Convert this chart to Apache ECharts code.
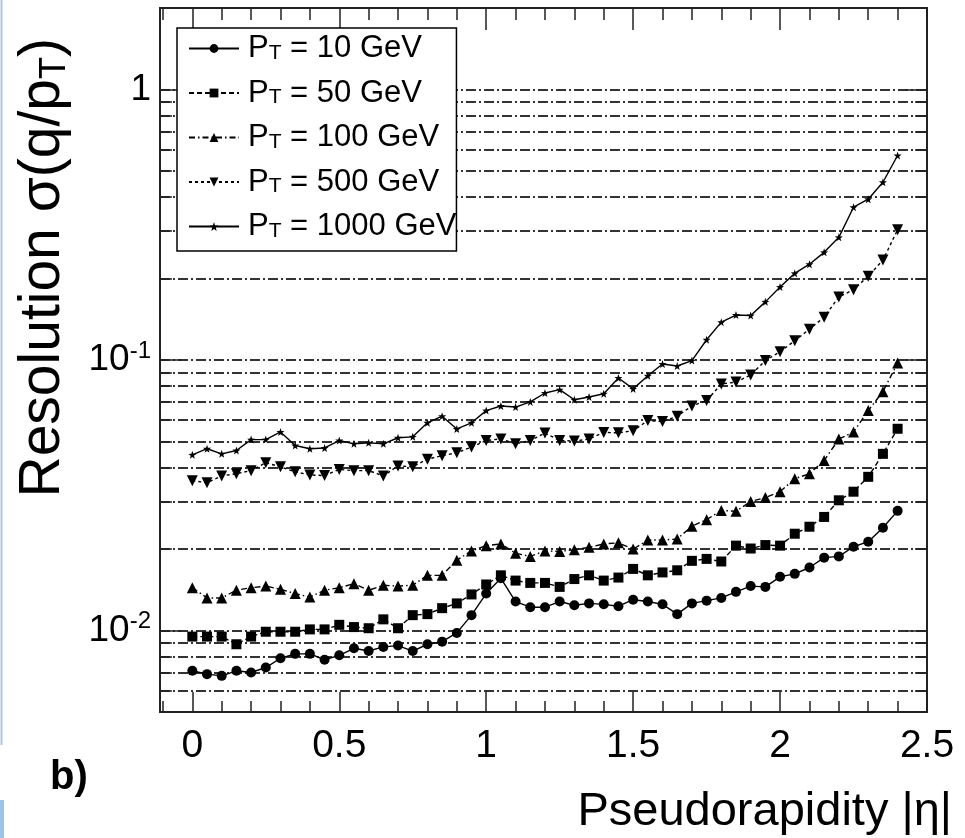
<!DOCTYPE html>
<html><head><meta charset="utf-8">
<script src="https://cdn.jsdelivr.net/npm/echarts@6/dist/echarts.min.js"></script>
<style>html,body{margin:0;padding:0;background:#fff}#c{width:965px;height:838px}</style>
</head><body><div id="c"></div><script>
// ---- data ----
const eta = [0,0.05,0.1,0.15,0.2,0.25,0.3,0.35,0.4,0.45,0.5,0.55,0.6,0.65,0.7,0.75,0.8,0.85,0.9,0.95,1.0,1.05,1.1,1.15,1.2,1.25,1.3,1.35,1.4,1.45,1.5,1.55,1.6,1.65,1.7,1.75,1.8,1.85,1.9,1.95,2.0,2.05,2.1,2.15,2.2,2.25,2.3,2.35,2.4];
const pt10 = [0.0071,0.0069,0.0068,0.0071,0.0070,0.0073,0.0079,0.0082,0.0082,0.0078,0.0081,0.0086,0.0084,0.0087,0.0088,0.0084,0.0089,0.0091,0.0098,0.0114,0.0137,0.0156,0.0128,0.0122,0.0122,0.0128,0.0124,0.0126,0.0125,0.0123,0.0130,0.0128,0.0125,0.0115,0.0126,0.0129,0.0132,0.0139,0.0146,0.0145,0.0158,0.0162,0.0171,0.0186,0.0188,0.0204,0.0213,0.0240,0.0277];
const pt50 = [0.0095,0.0095,0.0095,0.0089,0.0095,0.0099,0.0099,0.0099,0.0101,0.0101,0.0105,0.0103,0.0102,0.0110,0.0102,0.0114,0.0115,0.0121,0.0126,0.0136,0.0148,0.0160,0.0153,0.0150,0.0150,0.0145,0.0155,0.0160,0.0153,0.0157,0.0169,0.0160,0.0164,0.0167,0.0181,0.0184,0.0180,0.0206,0.0201,0.0207,0.0206,0.0228,0.0242,0.0263,0.0303,0.0326,0.0370,0.0450,0.0557];
const pt100 = [0.0144,0.0132,0.0132,0.0141,0.0144,0.0146,0.0142,0.0137,0.0133,0.0141,0.0144,0.0149,0.0141,0.0147,0.0146,0.0147,0.0160,0.0160,0.0182,0.0197,0.0206,0.0209,0.0193,0.0188,0.0197,0.0196,0.0199,0.0203,0.0209,0.0211,0.0200,0.0216,0.0216,0.0218,0.0243,0.0257,0.0278,0.0276,0.0300,0.0310,0.0326,0.0364,0.0380,0.0425,0.0510,0.0542,0.0650,0.0764,0.0975];
const pt500 = [0.0358,0.0352,0.0373,0.0380,0.0390,0.0417,0.0403,0.0386,0.0376,0.0374,0.0394,0.0390,0.0390,0.0373,0.0406,0.0403,0.0430,0.0443,0.0454,0.0477,0.0504,0.0511,0.0490,0.0504,0.0537,0.0504,0.0502,0.0510,0.0540,0.0538,0.0548,0.0597,0.0592,0.0620,0.0676,0.0708,0.0815,0.0829,0.0880,0.0995,0.1073,0.1178,0.1300,0.1440,0.1710,0.1820,0.2040,0.2340,0.3030];
const pt1000 = [0.0446,0.0470,0.0450,0.0463,0.0508,0.0508,0.0542,0.0483,0.0470,0.0473,0.0504,0.0490,0.0494,0.0490,0.0516,0.0520,0.0586,0.0620,0.0556,0.0586,0.0650,0.0676,0.0670,0.0700,0.0755,0.0777,0.0713,0.0730,0.0750,0.0858,0.0782,0.0875,0.0967,0.0950,0.0995,0.1188,0.1380,0.1466,0.1460,0.1640,0.1860,0.2090,0.2260,0.2500,0.2840,0.3670,0.3930,0.4540,0.5700];
const ptLabels = ['10','50','100','500','1000'];
const xMajorTicks = [0,0.5,1,1.5,2,2.5];
const xMinorTicks = [-0.1,0,0.1,0.2,0.3,0.4,0.5,0.6,0.7,0.8,0.9,1,1.1,1.2,1.3,1.4,1.5,1.6,1.7,1.8,1.9,2,2.1,2.2,2.3,2.4,2.5];
const yMajorTicks = [0.01,0.1,1];
const yMinorTicks = [0.006,0.007,0.008,0.009,0.01,0.02,0.03,0.04,0.05,0.06,0.07,0.08,0.09,0.1,0.2,0.3,0.4,0.5,0.6,0.7,0.8,0.9,1];

const FONT = '"Liberation Sans", Arial, Helvetica, sans-serif';
const chart = echarts.init(document.getElementById('c'), null, {renderer:'canvas'});
const allSeries = [pt10, pt50, pt100, pt500, pt1000];
const star = 'path://M0,-10L2.35,-3.24L9.51,-3.09L3.8,1.24L5.88,8.09L0,4L-5.88,8.09L-3.8,1.24L-9.51,-3.09L-2.35,-3.24Z';
const styles = [
  {symbol:'circle', size:10, type:'solid', rot:0},
  {symbol:'rect', size:10, type:[5,3], rot:0},
  {symbol:'triangle', size:11, type:[6,3,1.5,3], rot:0},
  {symbol:'triangle', size:11, type:[3,3], rot:180},
  {symbol:star, size:8, type:'solid', rot:0}
];
const names = ptLabels.map(p => 'P_T = ' + p + ' GeV');

const series = allSeries.map((vals, i) => ({
  name: names[i], type:'line', xAxisIndex:0, yAxisIndex:0,
  data: eta.map((x, j) => [x, vals[j]]),
  symbol: styles[i].symbol, symbolSize: styles[i].size, symbolRotate: styles[i].rot,
  showAllSymbol:true, animation:false,
  itemStyle:{color:'#000'},
  lineStyle:{color:'#000', width:1.4, type: styles[i].type},
  z: 5
}));

const axisLine = {show:true, onZero:false, lineStyle:{color:'#222', width:2}};
const tickStyle = {color:'#222', width:1.5};
const gridStyle = {color:'#333', width:1.8, type:[10,3,2,3]};
function xAx(pos, ticks, len, label){
  return {type:'value', min:-0.11, max:2.5, position:pos,
    axisLine: axisLine,
    axisTick:{show:true, inside:true, length:len, customValues:ticks, lineStyle:tickStyle},
    axisLabel: label ? {show:true, customValues:xMajorTicks, fontSize:39, fontFamily:FONT, color:'#000', margin:15} : {show:false},
    splitLine:{show:false}};
}
function yAx(pos, ticks, len, label, grid){
  return {type:'log', logBase:10, min:0.005, max:2, position:pos,
    axisLine: axisLine,
    axisTick:{show:true, inside:true, length:len, customValues:ticks, lineStyle:tickStyle},
    axisLabel: label ? {show:true, customValues:yMajorTicks, margin:9, color:'#000',
      formatter: v => Math.abs(v-1) < 1e-9 ? '{b|1}' : '{b|10}{s|' + Math.round(Math.log10(v)) + '}',
      rich:{b:{fontSize:37, fontFamily:FONT, color:'#000', lineHeight:42}, s:{fontSize:24, fontFamily:FONT, color:'#000', lineHeight:22, verticalAlign:'top'}}} : {show:false},
    splitLine: grid ? {show:true, lineStyle:gridStyle} : {show:false}};
}

chart.setOption({
  backgroundColor:'#fff',
  animation:false,
  grid:{left:160, right:38, top:8, bottom:126, containLabel:false},
  xAxis:[xAx('bottom', xMajorTicks, 20, true), xAx('bottom', xMinorTicks, 11, false), xAx('top', xMajorTicks, 22, false), xAx('top', xMinorTicks, 12, false)],
  yAxis:[yAx('left', yMajorTicks, 21, true, false), yAx('left', yMinorTicks, 12, false, true), yAx('right', yMajorTicks, 21, false, false), yAx('right', yMinorTicks, 12, false, false)],
  legend:{show:true, orient:'vertical', left:177, top:28, itemWidth:50, itemHeight:11, itemGap:13.5,
    padding:[5,0,9,11], borderColor:'#000', borderWidth:1.5, backgroundColor:'#fff', borderRadius:0,
    data: names,
    formatter: n => '{g|}{a|P}{s|T}{a| = ' + n.split(' = ')[1] + '}',
    textStyle:{color:'#000', fontFamily:FONT, fontSize:31,
      rich:{g:{width:4, lineHeight:30}, a:{fontSize:31, fontFamily:FONT, color:'#000', lineHeight:30}, s:{fontSize:21, fontFamily:FONT, color:'#000', lineHeight:6, verticalAlign:'bottom'}}}
  },
  graphic:[
    {type:'text', x:43, y:38, rotation:Math.PI/2, style:{text:'{a|Resolution σ(q/p}{s|T}{a|)}', textAlign:'right', textVerticalAlign:'middle', fill:'#000',
      rich:{a:{fontSize:57, fontFamily:FONT, fill:'#000', lineHeight:60}, s:{fontSize:36, fontFamily:FONT, fill:'#000', lineHeight:14, verticalAlign:'bottom'}}}},
    {type:'text', x:952, y:812, style:{text:'Pseudorapidity |η|', font:'47px ' + FONT, textAlign:'right', textVerticalAlign:'middle', fill:'#000'}},
    {type:'text', x:50, y:778, style:{text:'b)', font:'bold 40px ' + FONT, textAlign:'left', textVerticalAlign:'middle', fill:'#000'}},
    {type:'line', shape:{x1:1.5, y1:0, x2:1.5, y2:745}, style:{stroke:'#a9c6e3', lineWidth:2}},
    {type:'line', shape:{x1:2, y1:800, x2:2, y2:838}, style:{stroke:'#9ec3ea', lineWidth:4}}
  ],
  series: series
});
</script></body></html>
